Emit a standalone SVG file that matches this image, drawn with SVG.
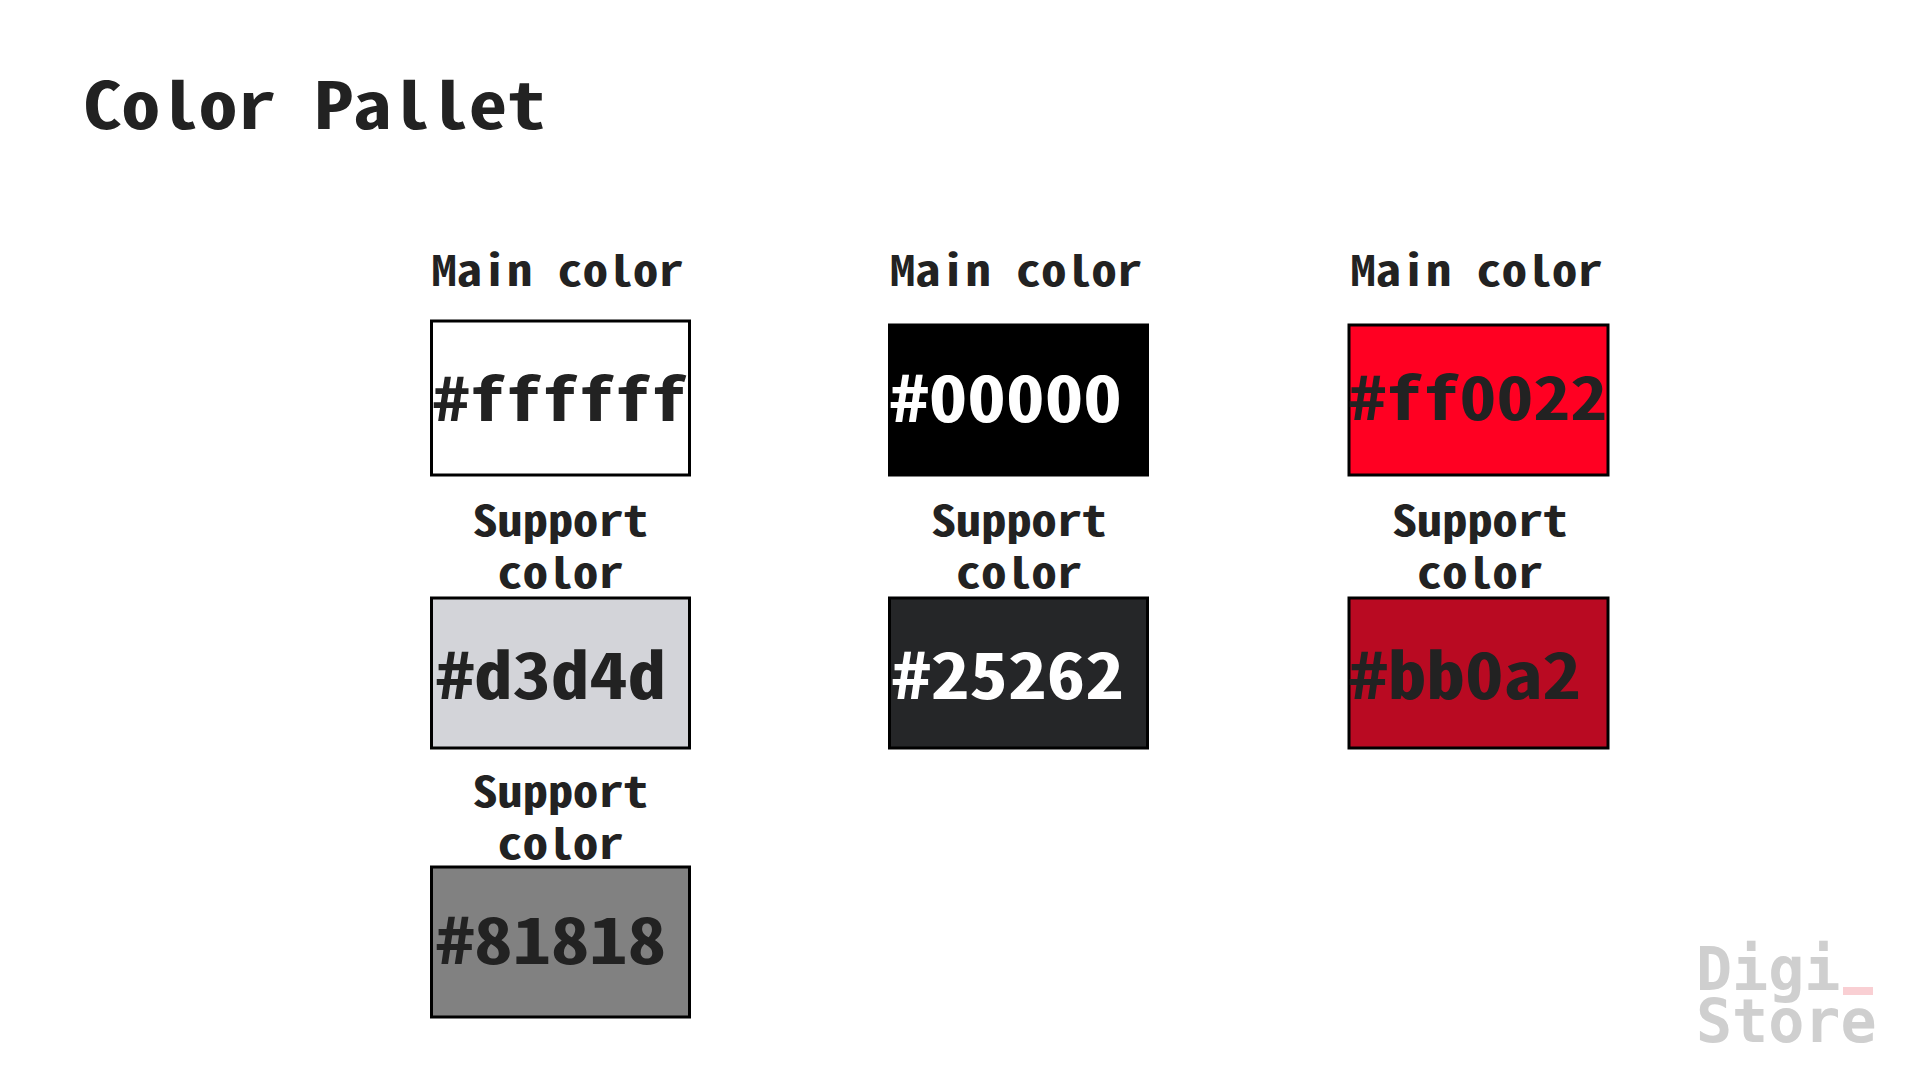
<svg xmlns="http://www.w3.org/2000/svg" width="1920" height="1080" viewBox="0 0 1920 1080">
<style>
text{font-family:"Noto Sans Mono CJK SC","Noto Sans CJK SC","DejaVu Sans Mono",monospace;font-weight:700;fill:#222222}
.title{font-size:64px}
.lab{font-size:42px;text-anchor:middle}
.hex{font-size:64px}
.hexs{font-size:60px}
.w{fill:#ffffff}
.box{stroke:#000;stroke-width:3}
.logo{font-family:"DejaVu Sans Mono",monospace;font-size:60px;fill:#cfcfcf}
</style>
<rect width="1920" height="1080" fill="#ffffff"/>
<text id="title" class="title" x="83" y="129" textLength="463" lengthAdjust="spacingAndGlyphs">Color Pallet</text>
<g id="white"><text class="lab" x="557.5" y="286" textLength="252" lengthAdjust="spacingAndGlyphs">Main color</text><rect class="box" x="431.5" y="321" width="258" height="154" fill="#ffffff"/><text class="hexs" x="433" y="421" textLength="254" lengthAdjust="spacingAndGlyphs">#ffffff</text></g>
<g id="black"><text class="lab" x="1016" y="286" textLength="252" lengthAdjust="spacingAndGlyphs">Main color</text><rect class="box" x="889.5" y="325" width="258" height="150" fill="#000000"/><text class="hex w" x="890" y="422" textLength="232" lengthAdjust="spacingAndGlyphs">#00000</text></g>
<g id="red"><text class="lab" x="1476.5" y="286" textLength="252" lengthAdjust="spacingAndGlyphs">Main color</text><rect class="box" x="1349" y="325" width="259" height="150" fill="#ff0022"/><text class="hexs" x="1349" y="420" textLength="258" lengthAdjust="spacingAndGlyphs">#ff0022</text></g>
<g id="lightgray"><text class="lab" x="560.5" y="536" textLength="176" lengthAdjust="spacingAndGlyphs">Support</text><text class="lab" x="560.5" y="588" textLength="126" lengthAdjust="spacingAndGlyphs">color</text><rect class="box" x="431.5" y="598" width="258" height="150" fill="#d3d4d9"/><text class="hex" x="436" y="699" textLength="230" lengthAdjust="spacingAndGlyphs">#d3d4d</text></g>
<g id="dark"><text class="lab" x="1019" y="536" textLength="176" lengthAdjust="spacingAndGlyphs">Support</text><text class="lab" x="1019" y="588" textLength="126" lengthAdjust="spacingAndGlyphs">color</text><rect class="box" x="889.5" y="598" width="258" height="150" fill="#252628"/><text class="hex w" x="892" y="699" textLength="232" lengthAdjust="spacingAndGlyphs">#25262</text></g>
<g id="darkred"><text class="lab" x="1480" y="536" textLength="176" lengthAdjust="spacingAndGlyphs">Support</text><text class="lab" x="1480" y="588" textLength="126" lengthAdjust="spacingAndGlyphs">color</text><rect class="box" x="1349" y="598" width="259" height="150" fill="#b90a22"/><text class="hex" x="1349" y="699" textLength="232" lengthAdjust="spacingAndGlyphs">#bb0a2</text></g>
<g id="gray"><text class="lab" x="560.5" y="807" textLength="176" lengthAdjust="spacingAndGlyphs">Support</text><text class="lab" x="560.5" y="859" textLength="126" lengthAdjust="spacingAndGlyphs">color</text><rect class="box" x="431.5" y="867" width="258" height="150" fill="#818181"/><text class="hex" x="436" y="964" textLength="230" lengthAdjust="spacingAndGlyphs">#81818</text></g>
<g id="logo"><text class="logo" x="1696" y="990">Digi</text><rect x="1843" y="987" width="30" height="8" fill="#f9cfd3"/><text class="logo" x="1696" y="1042">Store</text></g>
<g id="connectors"/>
</svg>
